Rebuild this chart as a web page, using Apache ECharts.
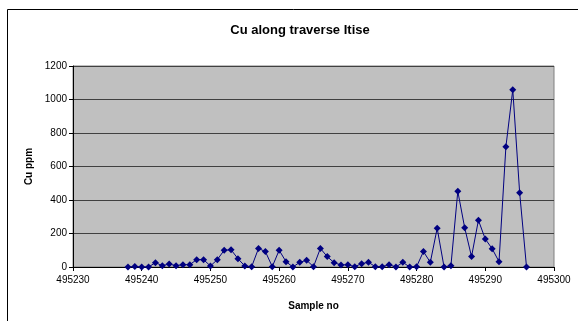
<!DOCTYPE html>
<html><head><meta charset="utf-8">
<script src="https://cdn.jsdelivr.net/npm/echarts@6/dist/echarts.min.js"></script>
<style>html,body{margin:0;padding:0;background:#fff}#c{width:578px;height:321px}</style>
</head><body><div id="c"></div>
<script>
const sampleNos = [495238,495239,495240,495241,495242,495243,495244,495245,495246,495247,495248,495249,495250,495251,495252,495253,495254,495255,495256,495257,495258,495259,495260,495261,495262,495263,495264,495265,495266,495267,495268,495269,495270,495271,495272,495273,495274,495275,495276,495277,495278,495279,495280,495281,495282,495283,495284,495285,495286,495287,495288,495289,495290,495291,495292,495293,495294,495295,495296];
const cuPpm = [0,3,0,0,26,8,18,8,14,14,44,44,6,44,100,103,50,6,2,111,92,2,100,32,0,28,40,2,111,62,26,12,14,2,20,28,2,2,14,0,28,0,2,92,28,231,0,8,452,235,62,279,167,109,32,718,1058,444,0];
const yTicks = [0,200,400,600,800,1000,1200];
const xTicks = [495230,495240,495250,495260,495270,495280,495290,495300];

const chart = echarts.init(document.getElementById('c'), null, {renderer:'canvas'});
const font = 'Liberation Sans, Arial, sans-serif';
chart.setOption({
  animation:false,
  backgroundColor:'#fff',
  title:{text:'Cu along traverse Itise', left:295, top:19, textAlign:'center',
    textStyle:{fontFamily:font,fontSize:13,fontWeight:'bold',color:'#000'}},
  graphic:[{type:'rect', shape:{x:7.5,y:9.5,width:600,height:400},
    style:{fill:'none',stroke:'#000',lineWidth:1}, z:-1}],
  grid:{left:73, right:24, top:66, bottom:54, show:true, backgroundColor:'#c0c0c0', borderColor:'#808080', borderWidth:1},
  xAxis:{type:'value', min:xTicks[0], max:xTicks[xTicks.length-1], interval:10,
    name:'Sample no', nameLocation:'middle', nameGap:34,
    nameTextStyle:{fontFamily:font,fontSize:10,fontWeight:'bold',color:'#000'},
    axisLine:{show:true,onZero:false,lineStyle:{color:'#000',width:1}},
    axisTick:{show:true,inside:false,length:4,lineStyle:{color:'#000'}},
    axisLabel:{fontFamily:font,fontSize:10,color:'#000',margin:8,formatter:v=>String(v)},
    splitLine:{show:false}},
  yAxis:{type:'value', min:yTicks[0], max:yTicks[yTicks.length-1], interval:200,
    name:'Cu ppm', nameLocation:'middle', nameGap:37, nameRotate:90,
    nameTextStyle:{fontFamily:font,fontSize:10,fontWeight:'bold',color:'#000'},
    axisLine:{show:true,lineStyle:{color:'#000',width:1}},
    axisTick:{show:true,inside:false,length:4,lineStyle:{color:'#000'}},
    axisLabel:{fontFamily:font,fontSize:10,color:'#000',margin:6,formatter:v=>String(v)},
    splitLine:{show:true,lineStyle:{color:'#404040',width:1}}},
  series:[{type:'line', data:sampleNos.map((s,i)=>[s,cuPpm[i]]),
    symbol:'diamond', symbolSize:7, showAllSymbol:true,
    lineStyle:{color:'#000080',width:1}, itemStyle:{color:'#000080'}}]
});
</script></body></html>
